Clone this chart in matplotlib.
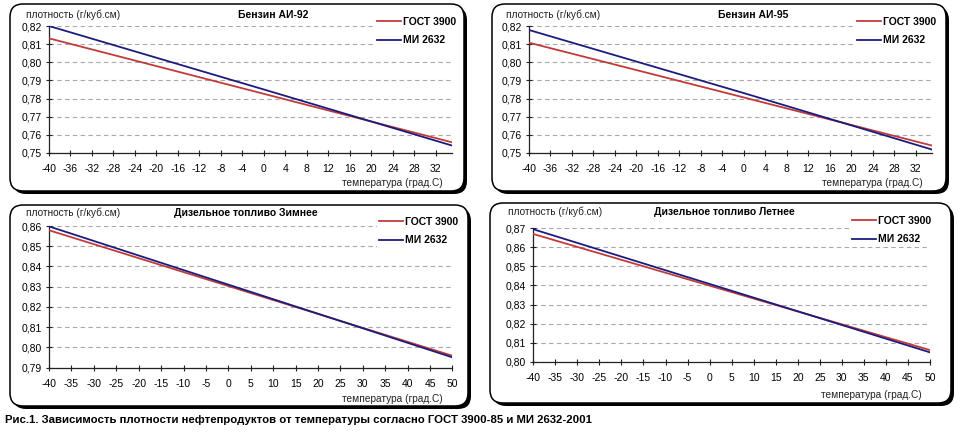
import matplotlib
matplotlib.use("Agg")
import matplotlib.pyplot as plt
from matplotlib.patches import FancyBboxPatch
from matplotlib.ticker import FuncFormatter, FixedLocator

plt.rcParams['font.family'] = ['Liberation Sans', 'DejaVu Sans']

W, H = 960, 434

# ---------------- data ----------------
titles = ["Бензин АИ-92", "Бензин АИ-95", "Дизельное топливо Зимнее", "Дизельное топливо Летнее"]
series_names = ["ГОСТ 3900", "МИ 2632"]

t_ai92 = [-40, 0, 35]
gost_ai92 = [0.8132, 0.7826, 0.7559]
mi_ai92 = [0.8200, 0.7850, 0.7541]

t_ai95 = [-40, 0, 35]
gost_ai95 = [0.8108, 0.7806, 0.7541]
mi_ai95 = [0.8178, 0.7830, 0.7519]

t_dtz = [-40, 0, 50]
gost_dtz = [0.8579, 0.8303, 0.7958]
mi_dtz = [0.8598, 0.8310, 0.7950]

t_dtl = [-40, 0, 50]
gost_dtl = [0.8670, 0.8399, 0.8061]
mi_dtl = [0.8695, 0.8408, 0.8049]

xticks_benz = [-40, -36, -32, -28, -24, -20, -16, -12, -8, -4, 0, 4, 8, 12, 16, 20, 24, 28, 32]
xticks_dt = [-40, -35, -30, -25, -20, -15, -10, -5, 0, 5, 10, 15, 20, 25, 30, 35, 40, 45, 50]
yticks_benz = [0.75, 0.76, 0.77, 0.78, 0.79, 0.80, 0.81, 0.82]
yticks_dtz = [0.79, 0.80, 0.81, 0.82, 0.83, 0.84, 0.85, 0.86]
yticks_dtl = [0.80, 0.81, 0.82, 0.83, 0.84, 0.85, 0.86, 0.87]

caption = "Рис.1. Зависимость плотности нефтепродуктов от температуры согласно ГОСТ 3900-85 и МИ 2632-2001"
ylabel_txt = "плотность (г/куб.см)"
xlabel_txt = "температура (град.С)"

GOST_C = "#c23b3b"
MI_C = "#1c1c7e"

fig = plt.figure(figsize=(W / 100, H / 100), dpi=100)

def fx(x):
    return x / W

def fy(y):
    return 1 - y / H

def box(l, t, r, b):
    sh = FancyBboxPatch(((l + 3) / 100, (H - b - 3) / 100), (r - l) / 100, (b - t) / 100,
                        boxstyle="round,pad=0,rounding_size=0.13",
                        transform=fig.dpi_scale_trans, facecolor="black", edgecolor="black",
                        lw=0, zorder=0)
    fig.patches.append(sh)
    bx = FancyBboxPatch((l / 100, (H - b) / 100), (r - l) / 100, (b - t) / 100,
                        boxstyle="round,pad=0,rounding_size=0.13",
                        transform=fig.dpi_scale_trans, facecolor="white", edgecolor="black",
                        lw=1.1, zorder=0.5)
    fig.patches.append(bx)

panels = [
    dict(box=(10, 4, 464, 191), ax=(49, 26, 452, 153), t=t_ai92, g=gost_ai92, m=mi_ai92,
         xt=xticks_benz, yt=yticks_benz, xlim=(-40, 35), ylab=(26, 15), title=(273, 15),
         leg=(375, 15), xlab=(443, 183)),
    dict(box=(492, 4, 946, 191), ax=(529, 26, 932, 153), t=t_ai95, g=gost_ai95, m=mi_ai95,
         xt=xticks_benz, yt=yticks_benz, xlim=(-40, 35), ylab=(506, 15), title=(753, 15),
         leg=(855, 15), xlab=(923, 183)),
    dict(box=(10, 205, 468, 406), ax=(49, 226, 452.5, 367.5), t=t_dtz, g=gost_dtz, m=mi_dtz,
         xt=xticks_dt, yt=yticks_dtz, xlim=(-40, 50), ylab=(26, 213), title=(246, 213),
         leg=(377, 215), xlab=(443, 399)),
    dict(box=(490, 203, 951, 403), ax=(533.3, 228.3, 930, 361.7), t=t_dtl, g=gost_dtl, m=mi_dtl,
         xt=xticks_dt, yt=yticks_dtl, xlim=(-40, 50), ylab=(508, 212), title=(724, 212),
         leg=(850, 214), xlab=(922, 395)),
]

fmt = FuncFormatter(lambda v, p: f"{v:.2f}".replace(".", ","))

for i, p in enumerate(panels):
    box(*p["box"])
    l, t, r, b = p["ax"]
    ax = fig.add_axes([fx(l), fy(b), (r - l) / W, (b - t) / H])
    ax.set_zorder(2)
    ax.set_facecolor("none")
    ax.plot(p["t"], p["g"], color=GOST_C, lw=1.3, label=series_names[0], zorder=3)
    ax.plot(p["t"], p["m"], color=MI_C, lw=1.3, label=series_names[1], zorder=3)
    ax.set_xlim(*p["xlim"])
    ax.set_ylim(p["yt"][0], p["yt"][-1])
    ax.xaxis.set_major_locator(FixedLocator(p["xt"]))
    ax.yaxis.set_major_locator(FixedLocator(p["yt"]))
    ax.yaxis.set_major_formatter(fmt)
    ax.set_xticklabels([str(v) for v in p["xt"]])
    for s in ["top", "right"]:
        ax.spines[s].set_visible(False)
    for s in ["left", "bottom"]:
        ax.spines[s].set_color("#222222")
        ax.spines[s].set_linewidth(0.9)
    ax.tick_params(direction="inout", length=4, width=0.8, color="#222222",
                   labelsize=7.5, pad=3)
    ax.tick_params(axis="x", pad=6)
    ax.grid(axis="y", color="#a8a8a8", linestyle=(0, (4, 3)), lw=0.8, zorder=1)
    ax.set_axisbelow(True)
    fig.text(fx(p["ylab"][0]), fy(p["ylab"][1]), ylabel_txt, fontsize=7.3,
             ha="left", va="center", color="#222222", zorder=3)
    fig.text(fx(p["title"][0]), fy(p["title"][1]), titles[i], fontsize=7.5,
             fontweight="bold", ha="center", va="center", zorder=3)
    fig.text(fx(p["xlab"][0]), fy(p["xlab"][1]), xlabel_txt, fontsize=7.3,
             ha="right", va="center", color="#222222", zorder=3)
    leg = ax.legend(loc="upper left", bbox_to_anchor=(fx(p["leg"][0]), fy(p["leg"][1])),
                    bbox_transform=fig.transFigure, frameon=True, fancybox=False,
                    facecolor="white", edgecolor="none", framealpha=1,
                    prop={"weight": "bold", "size": 7.5}, handlelength=2.3,
                    handletextpad=0.15, labelspacing=0.8, borderpad=0.2,
                    borderaxespad=0)
    leg.set_zorder(5)

fig.text(fx(5), fy(420), caption, fontsize=8.2, fontweight="bold", ha="left", va="center")

fig.savefig("out.png", dpi=100)
